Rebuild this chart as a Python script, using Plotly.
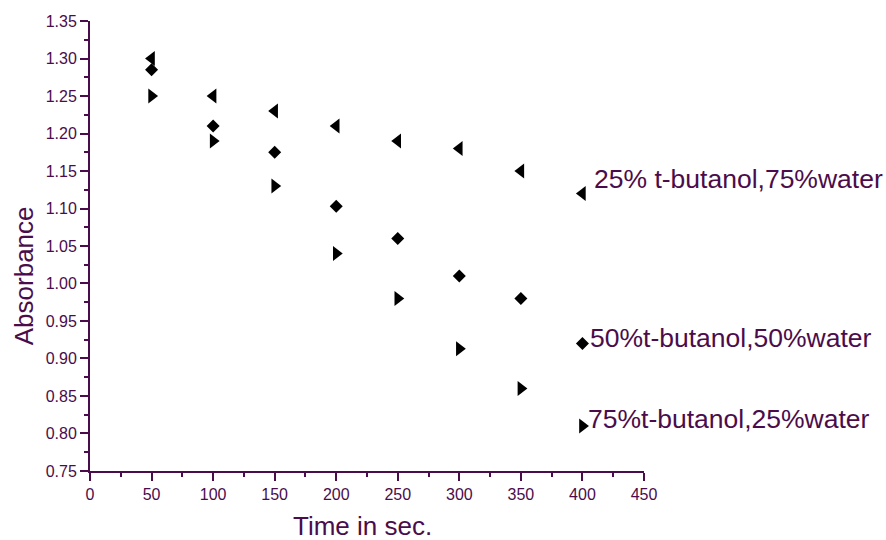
import plotly.graph_objects as go

# Reaction time (s) and measured absorbance for three t-butanol/water mixtures
time_s = [50, 100, 150, 200, 250, 300, 350, 400]
abs_25_tbutanol = [1.30, 1.25, 1.23, 1.21, 1.19, 1.18, 1.15, 1.12]
abs_50_tbutanol = [1.285, 1.21, 1.175, 1.103, 1.06, 1.01, 0.98, 0.92]
abs_75_tbutanol = [1.25, 1.19, 1.13, 1.04, 0.98, 0.913, 0.86, 0.81]

series_names = [
    "25% t-butanol,75%water",
    "50%t-butanol,50%water",
    "75%t-butanol,25%water",
]

PURPLE = "#4B0C4B"
FONT = "Arial, Liberation Sans, sans-serif"

fig = go.Figure()

series = [
    (abs_25_tbutanol, "triangle-left", 13, series_names[0], 10, 15),
    (abs_50_tbutanol, "diamond", 10, series_names[1], 6, 5),
    (abs_75_tbutanol, "triangle-right", 13, series_names[2], 4, 7),
]

for values, symbol, size, name, xs, ys in series:
    fig.add_trace(go.Scatter(
        x=time_s, y=values, mode="markers", name=name,
        marker=dict(symbol=symbol, size=size, color="black",
                    line=dict(width=0)),
        showlegend=False,
    ))
    # label placed next to the last point of each series
    fig.add_annotation(
        x=time_s[-1], y=values[-1], text=name, showarrow=False,
        xanchor="left", yanchor="middle", xshift=xs, yshift=ys,
        font=dict(family=FONT, size=26.5, color=PURPLE),
    )

axis_common = dict(
    showline=True, linecolor=PURPLE, linewidth=2,
    ticks="outside", ticklen=8, tickwidth=2, tickcolor=PURPLE,
    showgrid=False, zeroline=False,
    tickfont=dict(family=FONT, size=16, color=PURPLE),
)

fig.update_xaxes(
    range=[0, 450], dtick=50, tick0=0,
    minor=dict(dtick=25, ticks="outside", ticklen=4, tickwidth=2,
               tickcolor=PURPLE, showgrid=False),
    **axis_common,
)
fig.update_yaxes(
    range=[0.7499, 1.3501], dtick=0.05, tick0=0.75, tickformat=".2f",
    minor=dict(dtick=0.025, ticks="outside", ticklen=4, tickwidth=2,
               tickcolor=PURPLE, showgrid=False),
    **axis_common,
)

# axis titles
fig.add_annotation(
    text="Absorbance", xref="paper", yref="paper", x=-0.119, y=0.433,
    textangle=-90, showarrow=False, xanchor="center", yanchor="middle",
    font=dict(family=FONT, size=26, color=PURPLE),
)
fig.add_annotation(
    text="Time in sec.", xref="paper", yref="paper", x=0.491, y=-0.122,
    showarrow=False, xanchor="center", yanchor="middle",
    font=dict(family=FONT, size=26, color=PURPLE),
)

fig.update_layout(
    width=886, height=540,
    margin=dict(l=90, r=242, t=21, b=69),
    plot_bgcolor="white", paper_bgcolor="white",
)

fig.write_html("out.html")
